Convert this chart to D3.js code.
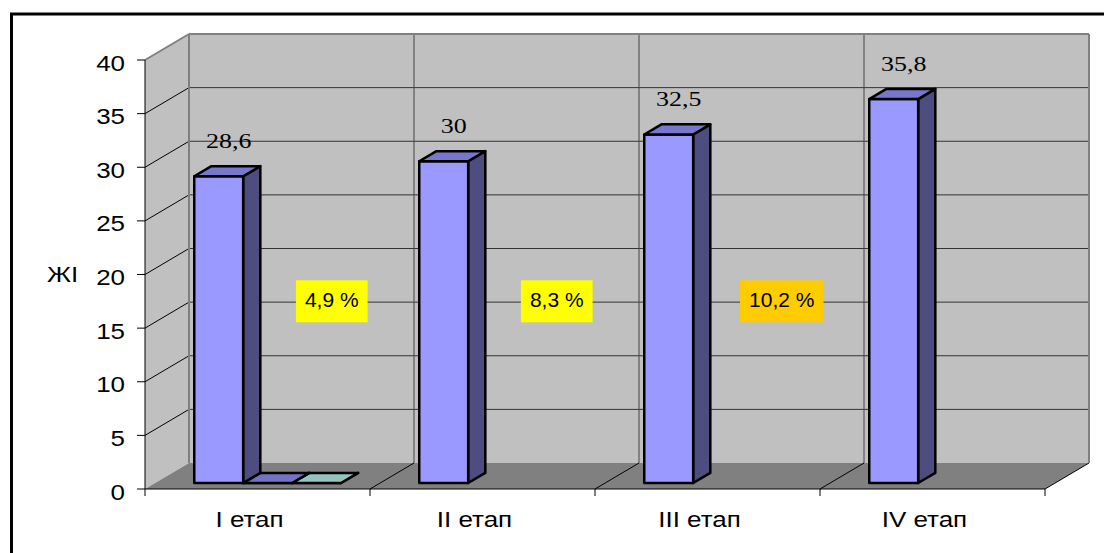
<!DOCTYPE html>
<html>
<head>
<meta charset="utf-8">
<script src="https://cdn.jsdelivr.net/npm/d3@7"></script>
<style>
  body { margin: 0; background: #fff; }
  text { font-family: "Liberation Sans", Arial, sans-serif; fill: #000; }
  .val { font-family: "Liberation Serif", "Times New Roman", serif; }
</style>
</head>
<body>
<div id="chart"></div>
<script>
// data
const categories = ['I етап', 'II етап', 'III етап', 'IV етап'];
const seriesA = [28.6, 30, 32.5, 35.8];
const seriesB = [0, null, null, null];
const seriesC = [0, null, null, null];
const valueLabels = ['28,6', '30', '32,5', '35,8'];
const noteLabels = ['4,9 %', '8,3 %', '10,2 %'];
const yTicks = [0, 5, 10, 15, 20, 25, 30, 35, 40];
const yTitle = 'ЖІ';

// styles
const width = 1104, height = 553;
const DX = 44, DY = 26;          // depth offset of the 3d box
const z0 = 0.23, z1 = 0.62;      // depth range of the bars
const stretch = 1.18;
const faces = [
  { front: '#9999ff', top: '#7777cc', side: '#4d4d80' },
  { front: '#9999ff', top: '#7373c6', side: '#4d4d80' },
  { front: '#99cccc', top: '#93c5be', side: '#4d6666' }
];
const noteColors = ['#ffff00', '#ffff00', '#ffcc00'];

const svg = d3.select('#chart').append('svg')
  .attr('width', width).attr('height', height);

const x = d3.scaleBand().domain(categories).range([145, 1045]).padding(0);
const sub = d3.scaleBand().domain([0, 1, 2]).range([0, x.bandwidth()])
  .paddingInner(0).paddingOuter(0.8);
const y = d3.scaleLinear().domain([0, 40]).range([489, 60]);

function proj(px, py, z) { return [px + DX * z, py - DY * z]; }
function pts(list) { return list.map(function(p) { return p.join(','); }).join(' '); }

const xL = x.range()[0], xR = x.range()[1];
const yTop = y(40), y0 = y(0);

// outer frame
svg.append('rect')
  .attr('x', 11.5).attr('y', 14).attr('width', 1200).attr('height', 700)
  .attr('fill', 'none').attr('stroke', '#000').attr('stroke-width', 3);

// walls
svg.append('polygon')
  .attr('points', pts([proj(xL, yTop, 0), proj(xL, yTop, 1), proj(xL, y0, 1), proj(xL, y0, 0)]))
  .attr('fill', '#c0c0c0');
svg.append('polygon')
  .attr('points', pts([proj(xL, yTop, 1), proj(xR, yTop, 1), proj(xR, y0, 1), proj(xL, y0, 1)]))
  .attr('fill', '#c0c0c0');
svg.append('polygon')
  .attr('points', pts([proj(xL, y0, 0), proj(xR, y0, 0), proj(xR, y0, 1), proj(xL, y0, 1)]))
  .attr('fill', '#808080');

// gridlines
const grid = svg.append('g');
yTicks.filter(function(t) { return t > 0 && t < 40; }).forEach(function(t) {
  const a = proj(xL, y(t), 1), b = proj(xR, y(t), 1);
  grid.append('line').attr('x1', a[0]).attr('y1', a[1]).attr('x2', b[0]).attr('y2', b[1])
    .attr('stroke', '#333').attr('stroke-width', 1);
  grid.append('line').attr('x1', xL).attr('y1', y(t)).attr('x2', a[0]).attr('y2', a[1])
    .attr('stroke', '#000').attr('stroke-width', 1);
});
categories.slice(1).forEach(function(c) {
  const xb = x(c);
  const a = proj(xb, yTop, 1), b = proj(xb, y0, 1);
  grid.append('line').attr('x1', a[0]).attr('y1', a[1]).attr('x2', b[0]).attr('y2', b[1])
    .attr('stroke', '#444').attr('stroke-width', 1);
});
categories.slice(1).map(function(c) { return x(c); }).concat([xR]).forEach(function(xb) {
  const b = proj(xb, y0, 1);
  grid.append('line').attr('x1', xb).attr('y1', y0).attr('x2', b[0]).attr('y2', b[1])
    .attr('stroke', '#000').attr('stroke-width', 1);
});

// wall edges
const edges = [
  [proj(xL, yTop, 0), proj(xL, yTop, 1)],
  [proj(xL, yTop, 1), proj(xR, yTop, 1)],
  [proj(xL, yTop, 1), proj(xL, y0, 1)],
  [proj(xR, yTop, 1), proj(xR, y0, 1)]
];
edges.forEach(function(e) {
  svg.append('line').attr('x1', e[0][0]).attr('y1', e[0][1]).attr('x2', e[1][0]).attr('y2', e[1][1])
    .attr('stroke', '#808080').attr('stroke-width', 2);
});

// axes
svg.append('line').attr('x1', xL).attr('y1', yTop).attr('x2', xL).attr('y2', y0)
  .attr('stroke', '#000').attr('stroke-width', 1);
svg.append('line').attr('x1', xL).attr('y1', y0).attr('x2', xR).attr('y2', y0)
  .attr('stroke', '#000').attr('stroke-width', 1);
yTicks.forEach(function(t) {
  svg.append('line').attr('x1', xL - 8).attr('y1', y(t)).attr('x2', xL).attr('y2', y(t))
    .attr('stroke', '#000').attr('stroke-width', 1);
  svg.append('text')
    .attr('transform', 'translate(125,' + (y(t) + 10.5) + ') scale(' + stretch + ',1)')
    .attr('text-anchor', 'end').style('font-size', '22px').text(t);
});
categories.map(function(c) { return x(c); }).concat([xR]).forEach(function(xb) {
  svg.append('line').attr('x1', xb).attr('y1', y0).attr('x2', xb).attr('y2', y0 + 7)
    .attr('stroke', '#000').attr('stroke-width', 1);
});
categories.forEach(function(c) {
  svg.append('text')
    .attr('transform', 'translate(' + (x(c) + x.bandwidth() / 2 - 8) + ',527) scale(' + stretch + ',1)')
    .attr('text-anchor', 'middle').style('font-size', '22px').text(c);
});
svg.append('text')
  .attr('transform', 'translate(47,282) scale(' + stretch + ',1)')
  .style('font-size', '22px').text(yTitle);

// bars (drawn back series first so sides overlap correctly)
const seriesList = [seriesA, seriesB, seriesC];
const bars = svg.append('g')
  .attr('stroke', '#000').attr('stroke-width', 2.5).attr('stroke-linejoin', 'round');
[2, 1, 0].forEach(function(s) {
  seriesList[s].forEach(function(v, i) {
    if (v === null) return;
    const xl = x(categories[i]) + sub(s), xr = xl + sub.bandwidth();
    const top = y(v), base = y(0);
    bars.append('polygon').attr('fill', faces[s].side)
      .attr('points', pts([proj(xr, top, z0), proj(xr, top, z1), proj(xr, base, z1), proj(xr, base, z0)]));
    bars.append('polygon').attr('fill', faces[s].front)
      .attr('points', pts([proj(xl, top, z0), proj(xr, top, z0), proj(xr, base, z0), proj(xl, base, z0)]));
    bars.append('polygon').attr('fill', faces[s].top)
      .attr('points', pts([proj(xl, top, z0), proj(xr, top, z0), proj(xr, top, z1), proj(xl, top, z1)]));
  });
});

// value labels
seriesA.forEach(function(v, i) {
  const p = proj(x(categories[i]) + sub(0) + sub.bandwidth() / 2, y(v), z0);
  svg.append('text').attr('class', 'val')
    .attr('transform', 'translate(' + (p[0] + 10) + ',' + (p[1] - 28) + ') scale(' + stretch + ',1)')
    .attr('text-anchor', 'middle').style('font-size', '22px').text(valueLabels[i]);
});

// percentage notes
noteLabels.forEach(function(n, i) {
  const cx = x(categories[i]) + x.bandwidth() * 0.83;
  const cy = y(17.5);
  const g = svg.append('g');
  const r = g.append('rect').attr('fill', noteColors[i]);
  const t = g.append('text').attr('x', cx).attr('y', cy + 6)
    .attr('text-anchor', 'middle').style('font-size', '21px').text(n);
  const w = t.node().getComputedTextLength() + 18;
  r.attr('x', cx - w / 2).attr('y', cy - 21).attr('width', w).attr('height', 42);
});
</script>
</body>
</html>
